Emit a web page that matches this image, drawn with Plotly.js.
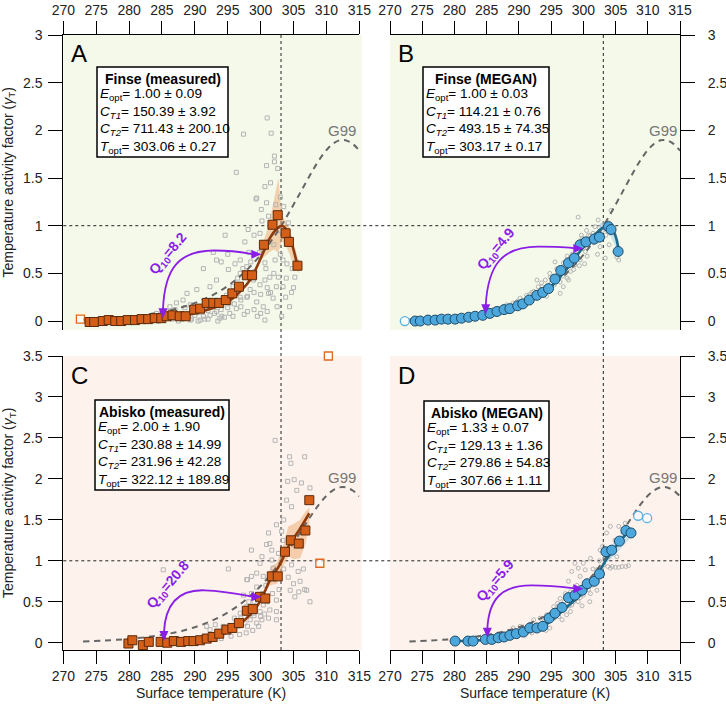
<!DOCTYPE html>
<html>
<head>
<meta charset="utf-8">
<script src="https://cdn.plot.ly/plotly-3.0.1.min.js"></script>
<style>html,body{margin:0;padding:0;background:#fff;}#chart{width:726px;height:711px;}</style>
</head>
<body>
<div id="chart"></div>
<script>
// ---------------- DATA ----------------
const tickTemps = [270, 275, 280, 285, 290, 295, 300, 305, 310, 315];

// G99 reference curve (gray dashed)
const g99T = [273, 276, 279, 282, 285, 288, 291, 294, 297, 300, 302, 303, 304, 306, 308, 309, 310, 311, 312, 312.5, 313, 314, 315];
const g99G = [0.016, 0.026, 0.040, 0.062, 0.095, 0.144, 0.217, 0.323, 0.477, 0.693, 0.879, 0.985, 1.099, 1.344, 1.590, 1.700, 1.793, 1.860, 1.896, 1.90, 1.895, 1.858, 1.787];

// Panel A: Finse (measured)
const finseMeasT = [274, 274.7, 276, 276.9, 277.9, 278.8, 279.8, 280.9, 281.9, 282.9, 283.9, 284.9, 285.7, 286.6, 287.7, 288.6, 289.9, 290.8, 291.8, 292.8, 293.7, 294.7, 295.7, 296.7, 297.9, 298.7, 300.5, 301.8, 302.6, 303.8, 304.3, 305.6];
const finseMeasG = [-0.01, -0.01, 0, 0.01, 0, 0, 0.01, 0.01, 0.02, 0.02, 0.03, 0.03, 0.05, 0.06, 0.05, 0.05, 0.12, 0.13, 0.19, 0.19, 0.19, 0.22, 0.29, 0.36, 0.48, 0.48, 0.80, 1.01, 1.11, 0.92, 0.83, 0.58];
const finseMeasOutT = [272.6];
const finseMeasOutG = [0.02];
const finseMeasFitT = [274, 280, 284, 288, 291, 293.3, 295.8, 298.4, 299.9, 301.4, 302.5, 303.2, 303.8, 304.4, 305.0, 305.6];
const finseMeasFitG = [-0.01, 0.0, 0.01, 0.05, 0.10, 0.15, 0.24, 0.43, 0.64, 0.87, 0.97, 1.0, 0.97, 0.88, 0.75, 0.58];
const finseMeasBandT = [299.6, 300.5, 301.3, 302.0, 302.7, 303.2, 303.8, 304.4, 305.0, 305.8];
const finseMeasBandHi = [0.70, 0.85, 1.02, 1.27, 1.50, 1.12, 1.05, 0.97, 0.82, 0.63];
const finseMeasBandLo = [0.62, 0.67, 0.72, 0.75, 0.72, 0.84, 0.80, 0.70, 0.58, 0.50];
const finseMeasCloud = [[300.65,1.41],[299.4,1.29],[300.9,1.24],[298.1,0.96],[299.9,0.92],[294.6,0.90],[297.6,0.83],[301.2,0.83],[293.3,0.64],[296.9,0.64],[291.3,0.55],[295.1,0.54],[296.1,0.60],[296.9,0.50],[297.9,0.57],[299.1,0.52],[300.65,0.43],[301.4,0.46],[302.7,0.46],[302.4,0.36],[299.9,0.38],[298.4,0.33],[301.2,0.29],[293.3,0.43],[292.3,0.36],[290.3,0.33],[288.8,0.29],[295.8,0.36],[294.8,0.27],[296.9,0.25],[297.9,0.25],[299.4,0.20],[300.4,0.15],[300.65,0.01],[293.3,0.10],[292.3,0.06],[291.3,0.05],[290.3,0.10],[289.3,0.17],[288.2,0.22],[287.2,0.19],[286.2,0.15],[289.8,0.15],[294.1,0.05],[295.3,0.08],[296.3,0.13],[295.3,0.19],[289.3,0.01],[287.7,0.03],[286.2,0.03],[285.2,0.05],[284.2,0.08],[290.8,0.01],[291.8,0.13],[298.9,0.43],[302.2,0.64],[303.4,0.36],[304.4,0.15],[305.2,0.46],[304.2,1.03],[303.4,0.64],[301.9,0.24],[300.65,0.61],[301,2.13],[301.6,1.97],[297.4,1.96],[296.3,1.56],[300.9,1.63],[299.3,1.28],[302.1,1.73],[302.1,1.67],[300.1,1.17],[301.5,1.45],[302.3,1.22],[303.5,1.20],[304.8,0.55],[305.5,0.62],[303.8,0.25],[303.2,0.05],[292,0.02],[293.5,0.0],[294.5,0.04],[290.5,0.0],[288,0.08],[286.5,0.02],[284.5,0.0],[283,0.01],[282,0.0],[297,0.15],[298,0.10],[299,0.12],[300,0.08],[301.5,0.30],[292.8,0.72],[294,0.62],[295,0.70],[286,0.10],[287,0.12],[288.5,0.14],[289,0.08],[290,0.06],[291,0.09],[292,0.11],[293,0.08],[294,0.12],[295,0.14],[296,0.18],[297,0.22],[298,0.26],[299,0.30],[300,0.28],[301,0.35],[302,0.50],[303,0.70],[304,0.60],[305,0.35],[287.5,0.0],[289.5,0.02],[291.5,0.02],[293.8,0.03],[295.8,0.05],[297.5,0.07],[299.5,0.05],[301,0.10],[302.5,0.15],[296.5,0.45],[297.3,0.55],[298.5,0.62],[299.8,0.72],[300.8,0.55],[302,0.80],[302.8,0.95],[298.2,0.72],[299,0.90],[300.2,1.05],[301.2,1.10],[303,1.30],[302.6,1.60],[303.9,0.45],[304.7,0.30]];

// Panel B: Finse (MEGAN)
const finseMegT = [273.9, 274.7, 275.9, 277, 278, 279, 280.1, 281.1, 282.2, 283.2, 284.4, 285.5, 286.6, 287.7, 288.6, 289.8, 290.6, 291.6, 292.8, 293.7, 294.6, 295.6, 296.5, 297.7, 298.6, 299.5, 300.4, 301.7, 302.5, 303.9, 304.3, 305.4];
const finseMegG = [0, 0, 0.01, 0.01, 0.02, 0.02, 0.02, 0.03, 0.04, 0.05, 0.06, 0.08, 0.10, 0.12, 0.13, 0.16, 0.18, 0.22, 0.27, 0.30, 0.34, 0.44, 0.53, 0.61, 0.66, 0.80, 0.83, 0.86, 0.88, 0.99, 0.96, 0.73];
const finseMegOutT = [272.3];
const finseMegOutG = [0.0];
const finseMegFitT = [274, 279, 284, 289.3, 292, 294.4, 297, 299.6, 301.7, 302.8, 303.6, 304.4, 305.0, 305.4];
const finseMegFitG = [0.0, 0.01, 0.04, 0.13, 0.22, 0.32, 0.51, 0.74, 0.90, 0.97, 0.99, 0.97, 0.89, 0.78];
const finseMegBandT = [302.5, 303.5, 304.3, 305.0, 305.5];
const finseMegBandHi = [1.02, 1.05, 1.03, 0.95, 0.82];
const finseMegBandLo = [0.95, 0.93, 0.88, 0.78, 0.68];
const finseMegCloud = [[302.3,1.06],[301.8,0.99],[300.5,0.95],[301.1,0.90],[299.8,0.87],[299,0.78],[302.6,0.78],[300.3,0.73],[297.95,0.66],[296.9,0.61],[298.7,0.59],[295.9,0.55],[297.2,0.50],[294.8,0.50],[294.1,0.43],[296.4,0.41],[295.1,0.36],[293,0.36],[292.3,0.31],[293.8,0.29],[291.2,0.27],[290.2,0.24],[291.8,0.22],[289.1,0.19],[290.7,0.17],[288.1,0.17],[287.1,0.13],[288.6,0.13],[286,0.12],[298.5,0.54],[299.5,0.64],[294.3,0.26],[292.8,0.43],[296.9,0.36],[297.7,0.43],[296.4,0.29],[295.6,0.62],[301.6,0.82],[302.6,0.92],[305.2,0.67],[303.4,0.66],[299.2,1.09],[303.9,1.03],[304.3,1.16],[285,0.08],[286.5,0.07],[284,0.05],[283,0.04],[287.5,0.10],[289.5,0.15],[291,0.20],[292.5,0.25],[294,0.33],[295,0.40],[296,0.45],[297,0.55],[298,0.60],[299,0.70],[300,0.76],[300.8,0.80],[301.5,0.92],[302,0.86],[303,0.95],[305.5,0.64],[293.5,0.40],[292,0.30],[290,0.20],[288,0.12],[297.5,0.45],[298.3,0.70],[300.2,0.60],[302.2,0.70],[285.5,0.06],[286.2,0.09],[287,0.08],[288.3,0.10],[289,0.14],[290.3,0.18],[291.3,0.20],[292,0.25],[293.2,0.28],[294.5,0.36],[295.5,0.38],[296.2,0.50],[297.2,0.58],[298.2,0.63],[299.2,0.66],[300,0.85],[300.8,0.90],[301.3,0.85],[302.5,0.98],[303.2,1.02],[303.5,0.90],[304,0.80],[294.9,0.46],[296.8,0.47],[298,0.52],[299.4,0.58],[300.6,0.68],[293.6,0.36],[291.7,0.28],[289.8,0.21],[297.5,0.68],[299.7,0.90]];

// Panel C: Abisko (measured)
const abiskoMeasT = [279.9, 280.5, 282.1, 283, 284.8, 285.8, 286.8, 287.9, 289, 289.8, 290.8, 291.8, 292.7, 293.7, 294.8, 295.7, 296.7, 297.9, 298.8, 299.9, 300.7, 301.7, 302.6, 303.7, 304.6, 305.8, 306.8, 307.4];
const abiskoMeasG = [-0.01, 0.03, -0.03, 0.01, 0.01, 0, 0.02, 0.01, 0.02, 0.02, 0.03, 0.05, 0.07, 0.11, 0.16, 0.18, 0.24, 0.39, 0.41, 0.56, 0.54, 0.81, 0.81, 1.11, 1.25, 1.21, 1.37, 1.74];
const abiskoMeasOutT = [309.0, 310.3];
const abiskoMeasOutG = [0.97, 3.5];
const abiskoMeasFitT = [285, 288, 290, 292.8, 295, 296.7, 298, 299.4, 300.5, 301.4, 302.9, 304.4, 305.9, 307.4];
const abiskoMeasFitG = [0.0, 0.01, 0.025, 0.06, 0.13, 0.22, 0.31, 0.44, 0.60, 0.76, 0.95, 1.20, 1.38, 1.58];
const abiskoMeasBandT = [300.8, 301.5, 302.5, 303.5, 304.2, 305.0, 306.0, 306.8, 307.4];
const abiskoMeasBandHi = [0.72, 0.92, 0.98, 1.20, 1.42, 1.45, 1.50, 1.60, 1.65];
const abiskoMeasBandLo = [0.66, 0.70, 0.72, 0.95, 1.05, 1.02, 1.03, 1.20, 1.45];
const abiskoMeasCloud = [[304.1,1.97],[305.5,1.86],[307.5,1.89],[303.95,1.74],[304.7,1.66],[302.4,1.44],[303.2,1.36],[301.2,1.34],[303.4,1.25],[301.4,1.21],[298.6,1.13],[301.7,1.13],[302.7,1.09],[300.2,1.05],[299.9,0.97],[295.1,0.90],[304.7,0.95],[305.7,0.87],[305,0.72],[304.5,0.64],[305.2,0.56],[307,0.64],[302.4,0.52],[301.4,0.77],[300.4,0.81],[299.4,0.85],[297.9,0.77],[299.4,0.68],[298.6,0.60],[297.4,0.58],[300.4,0.46],[301.4,0.40],[302.4,0.38],[302.4,0.28],[299.9,0.38],[298.9,0.36],[300.2,0.28],[299.4,0.24],[298.4,0.28],[297.6,0.24],[296.6,0.20],[295.8,0.16],[294.8,0.13],[293.8,0.11],[292.8,0.07],[291.8,0.20],[292.3,0.16],[293.1,0.22],[294.3,0.20],[297.9,0.44],[296.9,0.36],[298.6,0.81],[301.7,1.01],[301.9,0.91],[302.2,2.47],[304.4,2.27],[304.6,2.19],[306.7,2.27],[305.1,1.99],[306.2,1.95],[285.2,0.89],[298,0.77],[306.7,0.65],[307.5,0.50],[305.8,0.62],[290,0.04],[289,0.03],[291,0.06],[296,0.30],[297,0.30],[298,0.20],[299,0.33],[300.8,0.70],[301,0.50],[288,0.02],[286.5,0.02],[290.5,0.05],[291.5,0.08],[292.5,0.10],[293.5,0.14],[294.5,0.17],[295.5,0.20],[296.3,0.25],[297.2,0.27],[298.2,0.33],[299.2,0.40],[300,0.32],[300.6,0.35],[301.2,0.30],[299.7,0.20],[298.8,0.15],[297.8,0.12],[296.8,0.10],[295.5,0.08],[294,0.05],[299,0.50],[300.3,0.60],[298.2,0.50],[301.8,0.60],[302.8,0.65],[303.5,0.90],[304.2,0.80],[306,0.75],[306.5,0.90],[303.5,1.50],[300.9,1.20]];

// Panel D: Abisko (MEGAN)
const abiskoMegT = [280.1, 282.1, 282.9, 284.8, 285.8, 286.8, 287.7, 288.6, 289.6, 290.7, 291.7, 292.8, 293.7, 294.7, 295.6, 296.7, 297.7, 298.7, 299.8, 300.6, 301.7, 302.5, 303.5, 304.4, 305.6, 306.6, 307.4];
const abiskoMegG = [0.02, 0.02, 0.02, 0.04, 0.04, 0.06, 0.07, 0.09, 0.11, 0.13, 0.18, 0.18, 0.20, 0.30, 0.36, 0.43, 0.55, 0.58, 0.64, 0.72, 0.75, 0.84, 1.11, 1.13, 1.24, 1.37, 1.34];
const abiskoMegOutT = [308.5, 309.9];
const abiskoMegOutG = [1.55, 1.52];
const abiskoMegFitT = [280, 284, 287.1, 292.3, 294.9, 297.5, 300.1, 302.1, 303.7, 305.0, 306.6, 307.4];
const abiskoMegFitG = [0.02, 0.03, 0.07, 0.15, 0.26, 0.44, 0.62, 0.82, 1.03, 1.17, 1.32, 1.36];
const abiskoMegBandT = [303, 304, 305, 306, 307, 307.5];
const abiskoMegBandHi = [1.05, 1.15, 1.25, 1.33, 1.38, 1.38];
const abiskoMegBandLo = [0.95, 1.00, 1.08, 1.16, 1.25, 1.30];
const abiskoMegCloud = [[304.2,1.42],[303.6,1.34],[304.9,1.25],[302.6,1.13],[303.9,1.05],[301.1,1.03],[304.2,0.91],[305.5,0.92],[300,0.97],[300.3,0.89],[302.1,0.89],[299.2,0.91],[298.2,0.87],[299.5,0.81],[301.6,0.79],[297.7,0.75],[298.7,0.68],[302.1,0.64],[301.1,0.60],[297.2,0.60],[296.4,0.54],[297.95,0.56],[299.2,0.50],[300,0.58],[298.2,0.46],[296.9,0.44],[295.4,0.44],[295.9,0.36],[294.3,0.34],[297.4,0.34],[296.7,0.28],[293.3,0.30],[292.3,0.28],[293.8,0.24],[291.8,0.20],[290.2,0.20],[292.8,0.16],[289.1,0.18],[291.2,0.13],[288.1,0.11],[294.8,0.18],[298.7,0.97],[305.2,1.05],[306,0.93],[306.6,0.93],[307,0.94],[305.5,1.42],[306.5,1.46],[303,1.18],[302.5,1.00],[286,0.07],[285,0.06],[287,0.09],[284,0.05],[283,0.04],[282,0.03],[289.5,0.14],[290.8,0.17],[293,0.20],[294,0.27],[295,0.30],[296,0.40],[297,0.50],[298,0.62],[299,0.70],[300.5,0.75],[301.5,0.90],[303.2,0.95],[288.5,0.10],[289.8,0.12],[290.5,0.15],[291.5,0.17],[292.5,0.20],[293.5,0.22],[294.5,0.25],[295.5,0.30],[296.2,0.32],[297,0.40],[297.8,0.45],[298.5,0.50],[299.5,0.55],[300.2,0.70],[300.8,0.65],[301.3,0.70],[302.8,0.90],[303.8,0.93],[304.5,0.93],[305,0.92],[296,0.48],[298,0.38],[299.8,0.45],[301,0.50],[294.2,0.15],[292,0.12]];

// Fit-parameter boxes
const boxTitles = ['Finse (measured)', 'Finse (MEGAN)', 'Abisko (measured)', 'Abisko (MEGAN)'];
const eopt = ['1.00 ± 0.09', '1.00 ± 0.03', '2.00 ± 1.90', '1.33 ± 0.07'];
const ct1 = ['150.39 ± 3.92', '114.21 ± 0.76', '230.88 ± 14.99', '129.13 ± 1.36'];
const ct2 = ['711.43 ± 200.10', '493.15 ± 74.35', '231.96 ± 42.28', '279.86 ± 54.83'];
const topt = ['303.06 ± 0.27', '303.17 ± 0.17', '322.12 ± 189.89', '307.66 ± 1.11'];
const q10 = ['8.2', '4.9', '20.8', '5.9'];
const panelLetters = ['A', 'B', 'C', 'D'];

// ---------------- LAYOUT HELPERS ----------------
const W = 726, H = 711;
const px = v => v / W;
const py = v => 1 - v / H;
const FONT = 'Arial, "Liberation Sans", sans-serif';
const PURPLE = '#8a1ee6';

// panel pixel frames: [left, right, top, bottom]
const frames = [
  [63.3, 359.3, 35, 330],
  [390, 680, 35, 330],
  [63.3, 359.3, 356, 650],
  [390, 680, 356, 650]
];
const yRanges = [[-0.094, 3], [-0.094, 3], [-0.089, 3.5], [-0.089, 3.5]];
const bgCols = ['#f4f9ea', '#f4f9ea', '#fdf3ec', '#fdf3ec'];
const axIds = [['x', 'y'], ['x2', 'y2'], ['x3', 'y3'], ['x4', 'y4']];
const pxPerK = frames.map(f => (f[1] - f[0]) / 45);
const pxPerUnit = frames.map((f, i) => (f[3] - f[2]) / (yRanges[i][1] - yRanges[i][0]));

const traces = [];
function addPanel(i, kind, mainT, mainG, outT, outG, fitT, fitG, bandT, bandHi, bandLo, cloud) {
  const [xa, ya] = axIds[i];
  const isMeas = kind === 'meas';
  traces.push({
    x: bandT.concat(bandT.slice().reverse()),
    y: bandHi.concat(bandLo.slice().reverse()),
    xaxis: xa, yaxis: ya, type: 'scatter', mode: 'lines', fill: 'toself',
    fillcolor: isMeas ? 'rgba(238,168,108,0.5)' : 'rgba(160,208,238,0.55)',
    line: {width: 0, color: 'rgba(0,0,0,0)'}
  });
  traces.push({
    x: cloud.map(p => p[0]), y: cloud.map(p => p[1]),
    xaxis: xa, yaxis: ya, type: 'scatter', mode: 'markers',
    marker: {symbol: isMeas ? 'square-open' : 'circle-open', size: 4, color: '#b4b4b4', line: {width: 1}}
  });
  traces.push({
    x: g99T, y: g99G, xaxis: xa, yaxis: ya, type: 'scatter', mode: 'lines',
    line: {color: '#666', width: 2, dash: '6px,5px', shape: 'spline'}
  });
  traces.push({
    x: fitT, y: fitG, xaxis: xa, yaxis: ya, type: 'scatter', mode: 'lines',
    line: {color: isMeas ? '#8e3a0c' : '#1f6a8a', width: 2.6, shape: 'spline', smoothing: 0.8}
  });
  traces.push({
    x: outT, y: outG, xaxis: xa, yaxis: ya, type: 'scatter', mode: 'markers', cliponaxis: false,
    marker: isMeas
      ? {symbol: 'square', size: 8, color: 'rgba(255,255,255,0.6)', line: {color: '#e0691f', width: 1.3}}
      : {symbol: 'circle', size: 9, color: 'rgba(255,255,255,0.6)', line: {color: '#58b2e4', width: 1.3}}
  });
  traces.push({
    x: mainT, y: mainG, xaxis: xa, yaxis: ya, type: 'scatter', mode: 'markers',
    marker: isMeas
      ? {symbol: 'square', size: 9, color: '#d45f18', line: {color: '#5a2a0c', width: 1}}
      : {symbol: 'circle', size: 10, color: '#4ba7dc', line: {color: '#1f4a66', width: 1}}
  });
}
addPanel(0, 'meas', finseMeasT, finseMeasG, finseMeasOutT, finseMeasOutG, finseMeasFitT, finseMeasFitG, finseMeasBandT, finseMeasBandHi, finseMeasBandLo, finseMeasCloud);
addPanel(1, 'meg', finseMegT, finseMegG, finseMegOutT, finseMegOutG, finseMegFitT, finseMegFitG, finseMegBandT, finseMegBandHi, finseMegBandLo, finseMegCloud);
addPanel(2, 'meas', abiskoMeasT, abiskoMeasG, abiskoMeasOutT, abiskoMeasOutG, abiskoMeasFitT, abiskoMeasFitG, abiskoMeasBandT, abiskoMeasBandHi, abiskoMeasBandLo, abiskoMeasCloud);
addPanel(3, 'meg', abiskoMegT, abiskoMegG, abiskoMegOutT, abiskoMegOutG, abiskoMegFitT, abiskoMegFitG, abiskoMegBandT, abiskoMegBandHi, abiskoMegBandLo, abiskoMegCloud);

function xAxis(i) {
  const f = frames[i];
  return {
    domain: [px(f[0]), px(f[1])], anchor: axIds[i][1], side: i < 2 ? 'top' : 'bottom',
    range: [270, 315], tickvals: tickTemps, ticktext: tickTemps.map(String),
    showline: true, linecolor: '#000', linewidth: 1, ticks: 'outside', ticklen: 13, tickwidth: 1, tickcolor: '#000',
    showgrid: false, zeroline: false, tickfont: {family: FONT, size: 14, color: '#222'}, fixedrange: true
  };
}
function yAxis(i) {
  const f = frames[i];
  return {
    domain: [py(f[3]), py(f[2])], anchor: axIds[i][0], side: (i % 2 === 0) ? 'left' : 'right',
    range: yRanges[i], tick0: 0, dtick: 0.5,
    showline: true, linecolor: '#000', linewidth: 1, ticks: 'outside', ticklen: 14, tickwidth: 1, tickcolor: '#000',
    showgrid: false, zeroline: false, tickfont: {family: FONT, size: 14, color: '#222'}, ticklabelstandoff: (i % 2 === 0) ? 3 : 10, fixedrange: true
  };
}

const shapes = [];
frames.forEach((f, i) => {
  const right = (i % 2 === 0) ? f[1] + 2.5 : f[1];
  shapes.push({type: 'rect', xref: 'paper', yref: 'paper', x0: px(f[0]), x1: px(right), y0: py(f[3]), y1: py(f[2]),
    fillcolor: bgCols[i], line: {width: 0}, layer: 'below'});
});
['y', 'y3'].forEach(ya => shapes.push({type: 'line', xref: 'paper', yref: ya, x0: px(63.3), x1: px(680), y0: 1, y1: 1,
  line: {color: '#222', width: 1, dash: 'dot'}, layer: 'below'}));
['x', 'x2'].forEach(xa => shapes.push({type: 'line', xref: xa, yref: 'paper', x0: 303.1, x1: 303.1, y0: py(650), y1: py(35),
  line: {color: '#222', width: 1, dash: 'dot'}, layer: 'below'}));

// Q10 arcs (data coordinates of each panel)
const arcs = [
  'M 285.15,0.12 C 285.4,0.56 287.6,0.74 293,0.74 C 296.5,0.74 298,0.71 299.0,0.70',
  'M 284.85,0.16 C 285.2,0.60 287.5,0.78 293,0.78 C 296,0.78 298,0.77 298.9,0.76',
  'M 285.3,0.12 C 285.5,0.52 288,0.65 291.5,0.64 C 295,0.63 297.5,0.58 299.0,0.56',
  'M 285.1,0.16 C 285.3,0.55 287.5,0.70 292,0.70 C 295.5,0.70 297.8,0.67 298.9,0.66'
];
const leftTips = [[285.15, 0.03], [284.85, 0.07], [285.3, 0.02], [285.1, 0.06]];
const rightTips = [[300.1, 0.70], [300.0, 0.76], [300.1, 0.56], [300.0, 0.66]];
const q10Pos = [[286.0, 0.70], [286.5, 0.76], [286.0, 0.70], [286.4, 0.75]];
arcs.forEach((p, i) => shapes.push({type: 'path', xref: axIds[i][0], yref: axIds[i][1], path: p,
  line: {color: PURPLE, width: 1.8}, layer: 'above'}));
function triPath(i, tip, dir) {
  const L = 10, hw = 4.5, sx = pxPerK[i], sy = pxPerUnit[i];
  if (dir === 'down') {
    const by = tip[1] + L / sy;
    return `M ${tip[0]},${tip[1]} L ${tip[0] - hw / sx},${by} L ${tip[0] + hw / sx},${by} Z`;
  }
  const bx = tip[0] - L / sx;
  return `M ${tip[0]},${tip[1]} L ${bx},${tip[1] + hw / sy} L ${bx},${tip[1] - hw / sy} Z`;
}
axIds.forEach((a, i) => {
  shapes.push({type: 'path', xref: a[0], yref: a[1], path: triPath(i, leftTips[i], 'down'), fillcolor: PURPLE, line: {width: 0}, layer: 'above'});
  shapes.push({type: 'path', xref: a[0], yref: a[1], path: triPath(i, rightTips[i], 'right'), fillcolor: PURPLE, line: {width: 0}, layer: 'above'});
});

// text boxes [left, right, top, bottom] in px
const boxes = [[97, 228, 67, 157], [423, 549, 67, 157], [95, 229, 400, 490], [424, 549, 401, 491]];
boxes.forEach(b => shapes.push({type: 'rect', xref: 'paper', yref: 'paper', x0: px(b[0]), x1: px(b[1]), y0: py(b[3]), y1: py(b[2]),
  fillcolor: '#fff', line: {color: '#000', width: 1.5}, layer: 'above'}));

const annotations = [];
boxes.forEach((b, i) => {
  annotations.push({xref: 'paper', yref: 'paper', x: px((b[0] + b[1]) / 2), y: py(b[2] + 11.5), xanchor: 'center', yanchor: 'middle',
    text: '<b>' + boxTitles[i] + '</b>', showarrow: false, font: {family: FONT, size: 14, color: '#000'}});
  annotations.push({xref: 'paper', yref: 'paper', x: px(b[0] + 1), y: py(b[2] + 17), xanchor: 'left', yanchor: 'top', align: 'left',
    text: '<i>E</i><sub>opt</sub>= ' + eopt[i] + '<br><i>C</i><sub><i>T1</i></sub>= ' + ct1[i] +
          '<br><i>C</i><sub><i>T2</i></sub>= ' + ct2[i] + '<br><i>T</i><sub>opt</sub>= ' + topt[i],
    showarrow: false, font: {family: FONT, size: 13.6, color: '#000'}});
});
frames.forEach((f, i) => annotations.push({xref: 'paper', yref: 'paper', x: px(f[0] + 6), y: py(f[2] + 19), xanchor: 'left', yanchor: 'middle',
  text: panelLetters[i], showarrow: false, font: {family: FONT, size: 24, color: '#000'}}));
axIds.forEach((a, i) => annotations.push({xref: a[0], yref: a[1], x: 312.4, y: i < 2 ? 2.0 : 2.02, xanchor: 'center', yanchor: 'middle',
  text: 'G99', showarrow: false, font: {family: FONT, size: 15, color: '#777'}}));
axIds.forEach((a, i) => annotations.push({xref: a[0], yref: a[1], x: q10Pos[i][0], y: q10Pos[i][1], text: '<b>Q<sub>10</sub>=' + q10[i] + '</b>',
  textangle: -50, showarrow: false, font: {family: FONT, size: 14, color: PURPLE}}));
[182.5, 503].forEach(c => annotations.push({xref: 'paper', yref: 'paper', x: px(9), y: py(c), xanchor: 'center', yanchor: 'middle',
  textangle: -90, text: 'Temperature activity factor (<i>γ</i><sub>T</sub>)', showarrow: false, font: {family: FONT, size: 14, color: '#222'}}));
[211.3, 535].forEach(c => annotations.push({xref: 'paper', yref: 'paper', x: px(c), y: py(693), xanchor: 'center', yanchor: 'middle',
  text: 'Surface temperature (K)', showarrow: false, font: {family: FONT, size: 14, color: '#222'}}));

const layout = {
  width: W, height: H, margin: {l: 0, r: 0, t: 0, b: 0, pad: 0},
  paper_bgcolor: '#fff', plot_bgcolor: 'rgba(0,0,0,0)', showlegend: false, hovermode: false,
  font: {family: FONT, size: 14, color: '#222'},
  xaxis: xAxis(0), yaxis: yAxis(0), xaxis2: xAxis(1), yaxis2: yAxis(1),
  xaxis3: xAxis(2), yaxis3: yAxis(2), xaxis4: xAxis(3), yaxis4: yAxis(3),
  shapes: shapes, annotations: annotations
};
Plotly.newPlot('chart', traces, layout, {staticPlot: true, displayModeBar: false});
</script>
</body>
</html>
